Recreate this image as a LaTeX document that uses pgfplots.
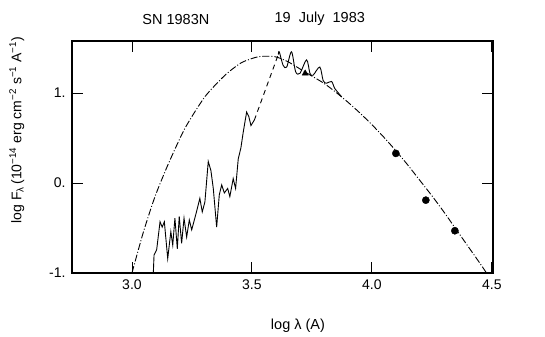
\documentclass[border=0pt]{standalone}
\usepackage{fontspec}
\setmainfont{Liberation Sans}
\usepackage{pgfplots}
\pgfplotsset{compat=1.18}

% observed spectrum (solid, jagged UV part)
\pgfplotstableread{
x y
3.089 -1.00
3.092 -0.80
3.103 -0.74
3.117 -0.43
3.126 -0.49
3.135 -0.43
3.149 -0.84
3.162 -0.54
3.170 -0.69
3.179 -0.39
3.189 -0.73
3.197 -0.37
3.207 -0.67
3.217 -0.39
3.228 -0.60
3.239 -0.41
3.249 -0.52
3.265 -0.36
3.283 -0.17
3.293 -0.32
3.304 -0.21
3.318 0.24
3.329 0.14
3.339 -0.06
3.353 -0.49
3.364 -0.13
3.374 -0.02
3.385 -0.11
3.399 -0.06
3.408 -0.15
3.422 0.05
3.432 -0.06
3.443 0.27
3.454 0.39
3.464 0.57
3.478 0.79
3.487 0.74
3.496 0.64
3.510 0.70
}\uvspec

% optical part (solid, wiggles)
\pgfplotstableread{
x y
3.610 1.43
3.614 1.46
3.630 1.31
3.645 1.29
3.665 1.46
3.682 1.24
3.700 1.22
3.728 1.37
3.742 1.22
3.755 1.20
3.783 1.29
3.797 1.14
3.811 1.11
3.832 1.13
3.846 1.05
3.874 0.96
}\optspec

% blackbody fit (dash-dot)
\pgfplotstableread{
x y
3.000 -1.00
3.047 -0.55
3.096 -0.15
3.151 0.21
3.221 0.61
3.304 0.96
3.388 1.20
3.457 1.34
3.526 1.405
3.582 1.41
3.610 1.395
3.650 1.35
3.700 1.27
3.750 1.19
3.800 1.11
3.850 1.01
3.900 0.90
3.950 0.78
4.000 0.65
4.050 0.51
4.100 0.36
4.150 0.20
4.200 0.03
4.250 -0.14
4.300 -0.32
4.350 -0.51
4.400 -0.70
4.450 -0.89
4.478 -1.00
}\bbody

\begin{document}
\begin{tikzpicture}
\begin{axis}[
  name=ax,
  scale only axis,
  width=421pt, height=232pt,
  xmin=2.75, xmax=4.505,
  ymin=-1, ymax=1.58,
  xtick={3,3.5,4,4.5},
  xticklabels={3.0,3.5,4.0,4.5},
  ytick={-1,0,1},
  yticklabels={-1.,0.,1.},
  tick align=inside,
  major tick length=11pt,
  tick style={line width=0.9pt, black},
  axis line style={line width=1.1pt},
  tick label style={font=\fontsize{14}{16}\selectfont},
  xticklabel style={yshift=-3pt},
  yticklabel style={xshift=-3pt},
  clip=false,
]
\addplot[black, line width=0.9pt, smooth, tension=0.4, dash pattern=on 7pt off 2pt on 1pt off 2pt] table {\bbody};
\addplot[black, line width=0.9pt] table {\uvspec};
\addplot[black, line width=0.9pt, dash pattern=on 5pt off 4pt] coordinates {(3.510,0.70) (3.610,1.43)};
\addplot[black, line width=0.9pt, smooth, tension=0.5] table {\optspec};
\addplot[only marks, mark=triangle*, mark size=3.5pt, black] coordinates {(3.722,1.22)};
\addplot[only marks, mark=*, mark size=3.6pt, black] coordinates {(4.100,0.33) (4.225,-0.19) (4.346,-0.53)};

\node[font=\fontsize{14.5}{16}\selectfont] at (axis cs:3.183,1.822) {SN 1983N};
\node[font=\fontsize{14.5}{16}\selectfont] at (axis cs:3.783,1.822) {19\ \ July\ \ 1983};
\node[font=\fontsize{14.5}{16}\selectfont] at (axis cs:3.692,-1.589) {log λ (A)};
\node[font=\fontsize{14}{16}\selectfont, rotate=90] at (axis cs:2.52,0.59)
  {log F\textsubscript{λ}\,(10\textsuperscript{−14} erg cm\textsuperscript{−2} s\textsuperscript{−1} A\textsuperscript{−1})};
\end{axis}
\path ([xshift=-72pt,yshift=-61pt]ax.south west) rectangle ([xshift=52pt,yshift=41pt]ax.north east);
\end{tikzpicture}
\end{document}
